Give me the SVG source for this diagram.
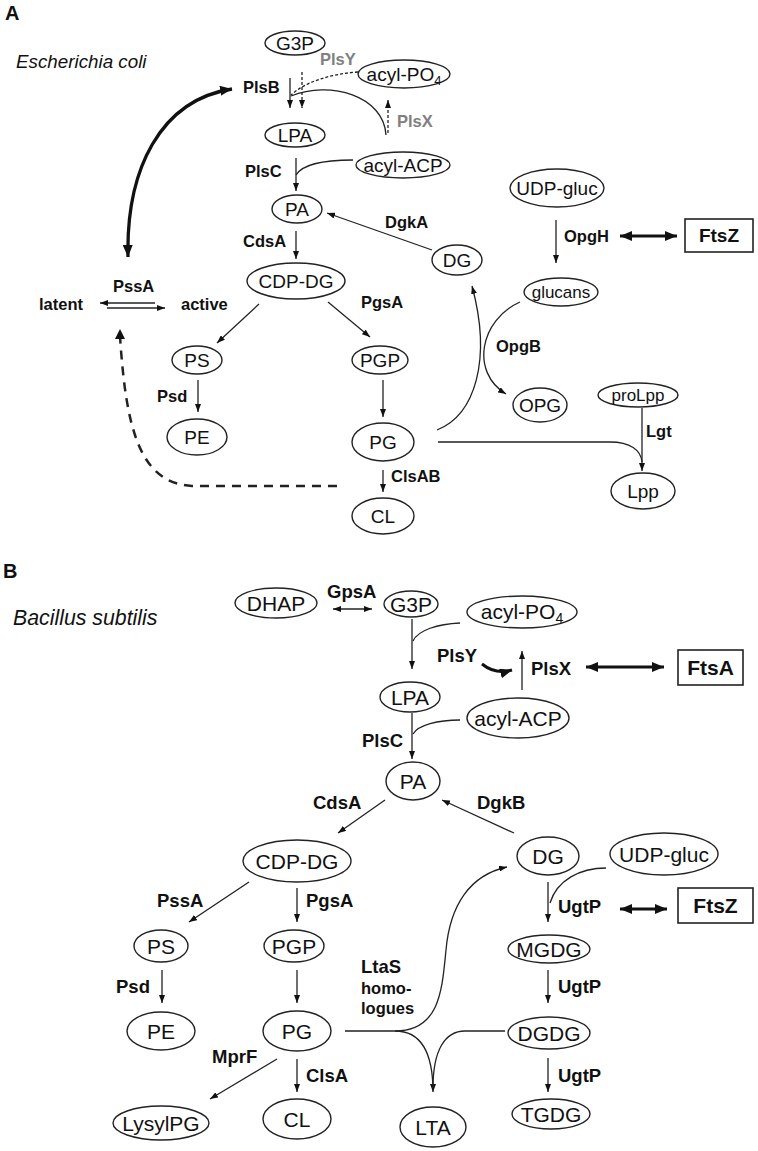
<svg xmlns="http://www.w3.org/2000/svg" width="758" height="1151" viewBox="0 0 758 1151">
<style>
.n{fill:#fff;stroke:#222;stroke-width:1.4}
.t{font-family:"Liberation Sans",Arial,sans-serif;font-size:19px;fill:#111;text-anchor:middle}
.tb{font-family:"Liberation Sans",Arial,sans-serif;font-size:21px;fill:#111;text-anchor:middle}
.ts{font-family:"Liberation Sans",Arial,sans-serif;font-size:17px;fill:#111;text-anchor:middle}
.l{font-family:"Liberation Sans",Arial,sans-serif;font-size:16.5px;font-weight:bold;fill:#111}
.lb{font-family:"Liberation Sans",Arial,sans-serif;font-size:18.5px;font-weight:bold;fill:#111}
.g{fill:#808080}
.c{fill:none;stroke:#222;stroke-width:1.3}
.d{stroke-dasharray:3,2}
.k{fill:none;stroke:#111;stroke-width:3}
.box{fill:#fff;stroke:#222;stroke-width:1.6}
.bx{font-family:"Liberation Sans",Arial,sans-serif;font-weight:bold;fill:#111;text-anchor:middle}
.it{font-family:"Liberation Sans",Arial,sans-serif;font-style:italic;fill:#111}
.pl{font-family:"Liberation Sans",Arial,sans-serif;font-weight:bold;fill:#111}
</style>
<defs>
<marker id="ah" markerWidth="8" markerHeight="6" refX="8" refY="3" orient="auto-start-reverse" markerUnits="userSpaceOnUse"><path d="M0,0 L8,3 L0,6 z" fill="#111"/></marker>
<marker id="ahT" markerWidth="12" markerHeight="10" refX="12" refY="5" orient="auto-start-reverse" markerUnits="userSpaceOnUse"><path d="M0,0 L12,5 L0,10 z" fill="#111"/></marker>
</defs>
<rect width="758" height="1151" fill="#fff"/>

<text class="pl" x="5" y="20" font-size="20">A</text>
<text class="it" x="16" y="68" font-size="18.8">Escherichia coli</text>
<text class="pl" x="3" y="578" font-size="20">B</text>
<text class="it" x="13" y="625" font-size="21.3">Bacillus subtilis</text>

<g id="connectors">
<!-- Panel A -->
<path class="c" d="M290,78 L290,108" marker-end="url(#ah)"/>
<path class="c d" d="M302,72 L302,108" marker-end="url(#ah)"/>
<path class="c d" d="M358,72 C330,74 305,82 291,95"/>
<path class="c" d="M386,135 C384,96 330,80 291,96"/>
<path class="c d" d="M388,133 L388,100" marker-end="url(#ah)"/>
<path class="c" d="M296,158 L296,191" marker-end="url(#ah)"/>
<path class="c" d="M353,160 C322,160 302,165 296,175"/>
<path class="c" d="M296,231 L296,259" marker-end="url(#ah)"/>
<path class="c" d="M432,250 L327,213" marker-end="url(#ah)"/>
<path class="c" d="M259,304 L217,343" marker-end="url(#ah)"/>
<path class="c" d="M328,302 L370,337" marker-end="url(#ah)"/>
<path class="c" d="M198,380 L198,412" marker-end="url(#ah)"/>
<path class="c" d="M383,380 L383,417" marker-end="url(#ah)"/>
<path class="c" d="M383,470 L383,492" marker-end="url(#ah)"/>
<path class="c" d="M437,430 C475,415 492,360 472,286" marker-end="url(#ah)"/>
<path class="c" d="M520,302 C480,320 470,372 506,394" marker-end="url(#ah)"/>
<path class="c" d="M556,220 L556,263" marker-end="url(#ah)"/>
<path class="k" d="M620,236 L677,236" marker-start="url(#ahT)" marker-end="url(#ahT)"/>
<path class="c" d="M642,408 L642,471" marker-end="url(#ah)"/>
<path class="c" d="M438,442 L610,442 C630,442 641,450 642,462"/>
<path class="c" d="M155,303 L100,303" marker-end="url(#ah)"/>
<path class="c" d="M107,308 L165,308" marker-end="url(#ah)"/>
<path class="k" style="stroke-width:3.3" d="M128,257 C126,170 160,100 232,89" marker-start="url(#ahT)" marker-end="url(#ahT)"/>
<path class="c" style="stroke-width:2.5;stroke-dasharray:9,7" d="M337,486 L192,486 C140,483 126,430 120,336"/>
<path d="M115,339 L120,329 L125,339 z" fill="#111"/>
<!-- Panel B -->
<path class="c" d="M333,609 L372,609" marker-start="url(#ah)" marker-end="url(#ah)"/>
<path class="c" d="M412,619 L412,669" marker-end="url(#ah)"/>
<path class="c" d="M460,623 C438,624 418,630 413,641"/>
<path class="k" d="M482,664 C492,672 502,673 512,670" marker-end="url(#ahT)"/>
<path class="c" d="M522,690 L522,651" marker-end="url(#ah)"/>
<path class="k" d="M586,667 L664,667" marker-start="url(#ahT)" marker-end="url(#ahT)"/>
<path class="c" d="M460,720 C438,720 418,725 413,734"/>
<path class="c" d="M412,713 L412,759" marker-end="url(#ah)"/>
<path class="c" d="M385,800 L338,833" marker-end="url(#ah)"/>
<path class="c" d="M514,833 L442,800" marker-end="url(#ah)"/>
<path class="c" d="M249,882 L189,922" marker-end="url(#ah)"/>
<path class="c" d="M297,888 L297,922" marker-end="url(#ah)"/>
<path class="c" d="M162,970 L162,1003" marker-end="url(#ah)"/>
<path class="c" d="M297,970 L297,1003" marker-end="url(#ah)"/>
<path class="c" d="M277,1059 L210,1099" marker-end="url(#ah)"/>
<path class="c" d="M297,1059 L297,1092" marker-end="url(#ah)"/>
<path class="c" d="M548,882 L548,922" marker-end="url(#ah)"/>
<path class="c" d="M606,868 C580,868 557,880 550,903"/>
<path class="k" d="M620,909 L667,909" marker-start="url(#ahT)" marker-end="url(#ahT)"/>
<path class="c" d="M548,970 L548,1003" marker-end="url(#ah)"/>
<path class="c" d="M548,1058 L548,1092" marker-end="url(#ah)"/>
<path class="c" d="M345,1031 L395,1031 C440,1031 442,990 446,950 C450,905 470,875 507,867" marker-end="url(#ah)"/>
<path class="c" d="M395,1031 C420,1031 433,1050 433,1092" marker-end="url(#ah)"/>
<path class="c" d="M505,1031 L465,1031 C445,1031 433,1050 433,1088"/>
</g>

<g id="labels">
<text class="l" x="243" y="93">PlsB</text>
<text class="l g" x="320" y="65">PlsY</text>
<text class="l g" x="397" y="127">PlsX</text>
<text class="l" x="245" y="177">PlsC</text>
<text class="l" x="385" y="228">DgkA</text>
<text class="l" x="243" y="247">CdsA</text>
<text class="l" x="113" y="292">PssA</text>
<text class="l" x="39" y="310">latent</text>
<text class="l" x="181" y="310">active</text>
<text class="l" x="361" y="308">PgsA</text>
<text class="l" x="157" y="402">Psd</text>
<text class="l" x="564" y="242">OpgH</text>
<text class="l" x="496" y="352">OpgB</text>
<text class="l" x="646" y="437">Lgt</text>
<text class="l" x="391" y="482">ClsAB</text>

<text class="lb" x="327" y="598">GpsA</text>
<text class="lb" x="437" y="662">PlsY</text>
<text class="lb" x="531" y="675">PlsX</text>
<text class="lb" x="362" y="747">PlsC</text>
<text class="lb" x="313" y="809">CdsA</text>
<text class="lb" x="477" y="809">DgkB</text>
<text class="lb" x="157" y="907">PssA</text>
<text class="lb" x="306" y="907">PgsA</text>
<text class="lb" x="558" y="913">UgtP</text>
<text class="lb" x="558" y="993">UgtP</text>
<text class="lb" x="558" y="1082">UgtP</text>
<text class="lb" x="116" y="993">Psd</text>
<text class="lb" x="361" y="973">LtaS</text>
<text class="l" x="361" y="994">homo-</text>
<text class="l" x="361" y="1014">logues</text>
<text class="lb" x="212" y="1063">MprF</text>
<text class="lb" x="306" y="1082">ClsA</text>
</g>

<!-- Panel A nodes -->
<g id="a-G3P"><ellipse class="n" cx="295" cy="43" rx="30" ry="12"/><text class="t" x="295" y="50">G3P</text></g>
<g id="a-acylPO4"><ellipse class="n" cx="404" cy="74" rx="46" ry="14"/><text class="t" x="404" y="81">acyl-PO<tspan font-size="13" dy="4">4</tspan></text></g>
<g id="a-LPA"><ellipse class="n" cx="295" cy="135" rx="30" ry="12"/><text class="t" x="295" y="142">LPA</text></g>
<g id="a-acylACP"><ellipse class="n" cx="403" cy="165" rx="47" ry="13"/><text class="t" x="403" y="172">acyl-ACP</text></g>
<g id="a-PA"><ellipse class="n" cx="297" cy="209" rx="25" ry="14"/><text class="t" x="297" y="216">PA</text></g>
<g id="a-DG"><ellipse class="n" cx="457" cy="260" rx="25" ry="15"/><text class="t" x="457" y="267">DG</text></g>
<g id="a-CDPDG"><ellipse class="n" cx="296" cy="281" rx="49" ry="18"/><text class="t" x="296" y="288">CDP-DG</text></g>
<g id="a-UDPgluc"><ellipse class="n" cx="557" cy="188" rx="47" ry="19"/><text class="t" x="557" y="195">UDP-gluc</text></g>
<g id="a-FtsZ"><rect class="box" x="685" y="219" width="68" height="33"/><text class="bx" x="719" y="242" font-size="19">FtsZ</text></g>
<g id="a-glucans"><ellipse class="n" cx="561" cy="292" rx="37" ry="14"/><text class="ts" x="561" y="298">glucans</text></g>
<g id="a-OPG"><ellipse class="n" cx="540" cy="405" rx="27" ry="17"/><text class="t" x="540" y="412">OPG</text></g>
<g id="a-proLpp"><ellipse class="n" cx="638" cy="395" rx="40" ry="12"/><text class="ts" x="638" y="401">proLpp</text></g>
<g id="a-PS"><ellipse class="n" cx="197" cy="360" rx="25" ry="14"/><text class="t" x="197" y="367">PS</text></g>
<g id="a-PGP"><ellipse class="n" cx="380" cy="360" rx="28" ry="14"/><text class="t" x="380" y="367">PGP</text></g>
<g id="a-PE"><ellipse class="n" cx="197" cy="437" rx="30" ry="18"/><text class="t" x="197" y="444">PE</text></g>
<g id="a-PG"><ellipse class="n" cx="383" cy="442" rx="31" ry="19"/><text class="t" x="383" y="449">PG</text></g>
<g id="a-CL"><ellipse class="n" cx="383" cy="516" rx="31" ry="18"/><text class="t" x="383" y="523">CL</text></g>
<g id="a-Lpp"><ellipse class="n" cx="643" cy="491" rx="32" ry="18"/><text class="t" x="643" y="498">Lpp</text></g>

<!-- Panel B nodes -->
<g id="b-DHAP"><ellipse class="n" cx="276" cy="603" rx="41" ry="15"/><text class="tb" x="276" y="611">DHAP</text></g>
<g id="b-G3P"><ellipse class="n" cx="411" cy="604" rx="27" ry="13"/><text class="tb" x="411" y="611.5">G3P</text></g>
<g id="b-acylPO4"><ellipse class="n" cx="522" cy="612" rx="55" ry="16"/><text class="tb" x="522" y="619">acyl-PO<tspan font-size="14" dy="4">4</tspan></text></g>
<g id="b-FtsA"><rect class="box" x="678" y="650" width="65" height="35"/><text class="bx" x="710.5" y="675" font-size="21">FtsA</text></g>
<g id="b-LPA"><ellipse class="n" cx="410" cy="697" rx="30" ry="15"/><text class="tb" x="410" y="704.5">LPA</text></g>
<g id="b-acylACP"><ellipse class="n" cx="518" cy="718" rx="51" ry="20"/><text class="tb" x="518" y="725.5">acyl-ACP</text></g>
<g id="b-PA"><ellipse class="n" cx="413" cy="781" rx="27" ry="19"/><text class="tb" x="413" y="788.5">PA</text></g>
<g id="b-CDPDG"><ellipse class="n" cx="297" cy="861" rx="54" ry="21"/><text class="tb" x="297" y="868.5">CDP-DG</text></g>
<g id="b-DG"><ellipse class="n" cx="548" cy="856" rx="31" ry="19"/><text class="tb" x="548" y="863.5">DG</text></g>
<g id="b-UDPgluc"><ellipse class="n" cx="664" cy="854" rx="54" ry="21"/><text class="tb" x="664" y="861.5">UDP-gluc</text></g>
<g id="b-FtsZ"><rect class="box" x="678" y="888" width="75" height="35"/><text class="bx" x="715.5" y="913" font-size="21">FtsZ</text></g>
<g id="b-PS"><ellipse class="n" cx="161" cy="946" rx="27" ry="16"/><text class="tb" x="161" y="953.5">PS</text></g>
<g id="b-PGP"><ellipse class="n" cx="294" cy="946" rx="30" ry="16"/><text class="tb" x="294" y="953.5">PGP</text></g>
<g id="b-MGDG"><ellipse class="n" cx="549" cy="949" rx="41" ry="14"/><text class="tb" x="549" y="956.5">MGDG</text></g>
<g id="b-PE"><ellipse class="n" cx="161" cy="1031" rx="34" ry="19"/><text class="tb" x="161" y="1038.5">PE</text></g>
<g id="b-PG"><ellipse class="n" cx="297" cy="1031" rx="34" ry="20"/><text class="tb" x="297" y="1038.5">PG</text></g>
<g id="b-DGDG"><ellipse class="n" cx="549" cy="1033" rx="41" ry="16"/><text class="tb" x="549" y="1040.5">DGDG</text></g>
<g id="b-LysylPG"><ellipse class="n" cx="161" cy="1123" rx="48" ry="17"/><text class="tb" x="161" y="1130.5">LysylPG</text></g>
<g id="b-CL"><ellipse class="n" cx="297" cy="1119" rx="34" ry="20"/><text class="tb" x="297" y="1126.5">CL</text></g>
<g id="b-LTA"><ellipse class="n" cx="433" cy="1127" rx="33" ry="20"/><text class="tb" x="433" y="1134.5">LTA</text></g>
<g id="b-TGDG"><ellipse class="n" cx="551" cy="1114" rx="39" ry="15"/><text class="tb" x="551" y="1121.5">TGDG</text></g>
</svg>
